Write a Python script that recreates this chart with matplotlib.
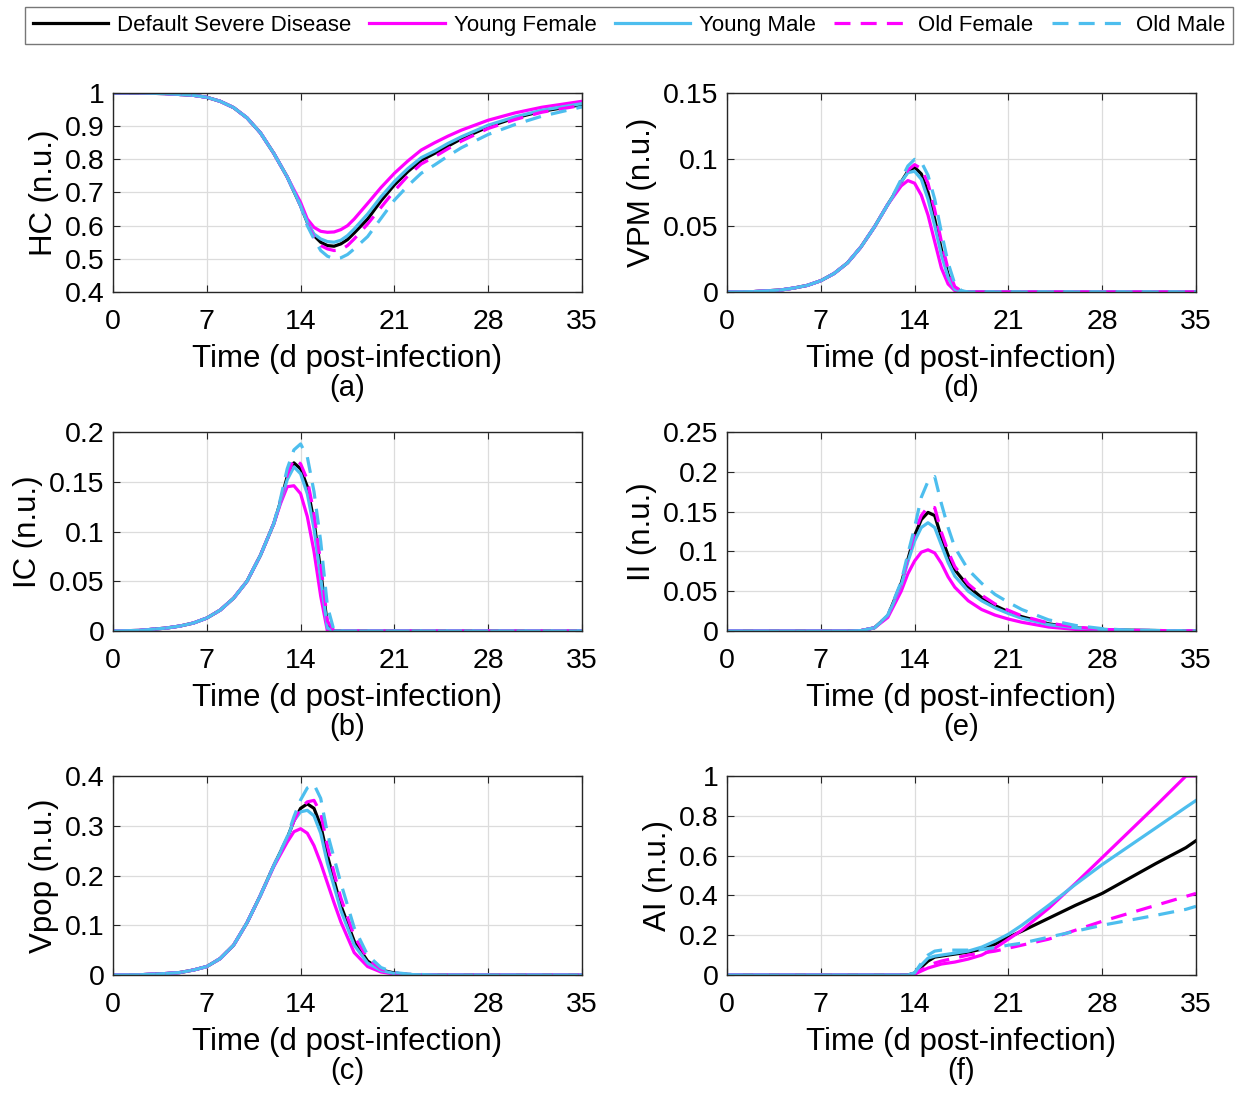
import matplotlib
matplotlib.use("Agg")
import matplotlib.pyplot as plt
from matplotlib.ticker import FuncFormatter

plt.rcParams['font.family'] = ['Liberation Sans', 'DejaVu Sans']

series_names = ["Default Severe Disease", "Young Female", "Young Male", "Old Female", "Old Male"]

# ---------------- (a) HC ----------------
t_hc = [0, 2, 4, 6, 7, 8, 9, 10, 11, 12, 13, 14, 14.5, 15, 15.5, 16, 16.5, 17, 17.5, 18, 19, 20, 21, 22, 23, 24, 25, 26, 28, 30, 32, 35]
hc_def = [1.0, 1.0, 0.998, 0.993, 0.987, 0.975, 0.956, 0.925, 0.88, 0.818, 0.747, 0.66, 0.61, 0.57, 0.55, 0.54, 0.538, 0.545, 0.558, 0.578, 0.62, 0.675, 0.723, 0.763, 0.797, 0.818, 0.84, 0.862, 0.898, 0.925, 0.945, 0.965]
hc_yf = [1.0, 1.0, 0.998, 0.993, 0.987, 0.975, 0.956, 0.925, 0.88, 0.818, 0.747, 0.67, 0.62, 0.595, 0.583, 0.58, 0.581, 0.588, 0.60, 0.62, 0.667, 0.715, 0.758, 0.795, 0.828, 0.85, 0.87, 0.888, 0.918, 0.94, 0.957, 0.975]
hc_ym = [1.0, 1.0, 0.998, 0.993, 0.987, 0.975, 0.956, 0.925, 0.88, 0.818, 0.747, 0.66, 0.61, 0.575, 0.56, 0.552, 0.55, 0.556, 0.57, 0.59, 0.635, 0.687, 0.733, 0.772, 0.805, 0.825, 0.848, 0.868, 0.903, 0.928, 0.948, 0.968]
hc_of = [1.0, 1.0, 0.998, 0.993, 0.987, 0.975, 0.956, 0.925, 0.88, 0.818, 0.747, 0.66, 0.605, 0.565, 0.54, 0.53, 0.525, 0.527, 0.54, 0.56, 0.605, 0.655, 0.705, 0.75, 0.786, 0.808, 0.832, 0.855, 0.893, 0.92, 0.942, 0.963]
hc_om = [1.0, 1.0, 0.998, 0.993, 0.987, 0.975, 0.956, 0.925, 0.88, 0.818, 0.747, 0.66, 0.60, 0.56, 0.525, 0.508, 0.50, 0.503, 0.513, 0.53, 0.567, 0.622, 0.677, 0.72, 0.758, 0.783, 0.81, 0.835, 0.875, 0.905, 0.93, 0.958]

# ---------------- (b) IC ----------------
t_ic = [0, 2, 4, 5, 6, 7, 8, 9, 10, 11, 12, 12.5, 13, 13.5, 14, 14.5, 15, 15.5, 16, 16.5, 20, 25, 30, 35]
ic_def = [0, 0.0006, 0.003, 0.005, 0.008, 0.013, 0.021, 0.033, 0.05, 0.076, 0.108, 0.13, 0.155, 0.169, 0.163, 0.145, 0.11, 0.06, 0.006, 0, 0, 0, 0, 0]
ic_yf = [0, 0.0006, 0.003, 0.005, 0.008, 0.013, 0.021, 0.033, 0.05, 0.076, 0.108, 0.128, 0.145, 0.146, 0.138, 0.115, 0.08, 0.035, 0.0, 0, 0, 0, 0, 0]
ic_ym = [0, 0.0006, 0.003, 0.005, 0.008, 0.013, 0.021, 0.033, 0.05, 0.076, 0.108, 0.13, 0.152, 0.165, 0.158, 0.138, 0.103, 0.053, 0.003, 0, 0, 0, 0, 0]
ic_of = [0, 0.0006, 0.003, 0.005, 0.008, 0.013, 0.021, 0.033, 0.05, 0.076, 0.108, 0.131, 0.157, 0.173, 0.168, 0.152, 0.118, 0.068, 0.01, 0, 0, 0, 0, 0]
ic_om = [0, 0.0006, 0.003, 0.005, 0.008, 0.013, 0.021, 0.033, 0.05, 0.076, 0.108, 0.133, 0.163, 0.182, 0.188, 0.175, 0.14, 0.09, 0.025, 0, 0, 0, 0, 0]

# ---------------- (c) Vpop ----------------
t_vp = [0, 2, 4, 5, 6, 7, 8, 9, 10, 11, 12, 13, 13.5, 14, 14.5, 15, 15.5, 16, 16.5, 17, 18, 19, 20, 21, 22, 24, 35]
vp_def = [0, 0.0005, 0.003, 0.005, 0.01, 0.017, 0.033, 0.06, 0.105, 0.16, 0.22, 0.275, 0.31, 0.335, 0.344, 0.335, 0.30, 0.24, 0.19, 0.14, 0.068, 0.028, 0.01, 0.004, 0.001, 0, 0]
vp_yf = [0, 0.0005, 0.003, 0.005, 0.01, 0.017, 0.033, 0.06, 0.105, 0.16, 0.218, 0.267, 0.288, 0.294, 0.285, 0.26, 0.225, 0.185, 0.145, 0.107, 0.045, 0.017, 0.006, 0.002, 0.001, 0, 0]
vp_ym = [0, 0.0005, 0.003, 0.005, 0.01, 0.017, 0.033, 0.06, 0.105, 0.16, 0.22, 0.275, 0.31, 0.328, 0.331, 0.32, 0.285, 0.225, 0.178, 0.13, 0.06, 0.024, 0.009, 0.003, 0.001, 0, 0]
vp_of = [0, 0.0005, 0.003, 0.005, 0.01, 0.017, 0.033, 0.06, 0.105, 0.16, 0.22, 0.275, 0.31, 0.336, 0.348, 0.351, 0.325, 0.26, 0.205, 0.155, 0.078, 0.033, 0.012, 0.004, 0.001, 0, 0]
vp_om = [0, 0.0005, 0.003, 0.005, 0.01, 0.017, 0.033, 0.06, 0.105, 0.16, 0.22, 0.278, 0.318, 0.352, 0.376, 0.383, 0.355, 0.285, 0.235, 0.185, 0.095, 0.04, 0.015, 0.005, 0.002, 0, 0]

# ---------------- (d) VPM ----------------
t_vpm = [0, 2, 4, 5, 6, 7, 8, 9, 10, 11, 12, 12.5, 13, 13.5, 14, 14.5, 15, 15.5, 16, 16.5, 17, 17.5, 18, 25, 35]
vpm_def = [0, 0.0003, 0.0015, 0.003, 0.005, 0.0085, 0.014, 0.022, 0.034, 0.049, 0.066, 0.074, 0.083, 0.091, 0.094, 0.089, 0.075, 0.055, 0.032, 0.013, 0.003, 0.0005, 0, 0, 0]
vpm_yf = [0, 0.0003, 0.0015, 0.003, 0.005, 0.0085, 0.014, 0.022, 0.034, 0.049, 0.066, 0.073, 0.08, 0.084, 0.082, 0.073, 0.058, 0.038, 0.018, 0.006, 0.001, 0.0002, 0, 0, 0]
vpm_ym = [0, 0.0003, 0.0015, 0.003, 0.005, 0.0085, 0.014, 0.022, 0.034, 0.049, 0.066, 0.074, 0.083, 0.09, 0.091, 0.085, 0.07, 0.05, 0.028, 0.011, 0.002, 0.0004, 0, 0, 0]
vpm_of = [0, 0.0003, 0.0015, 0.003, 0.005, 0.0085, 0.014, 0.022, 0.034, 0.049, 0.066, 0.074, 0.084, 0.092, 0.096, 0.093, 0.082, 0.062, 0.038, 0.017, 0.004, 0.0007, 0, 0, 0]
vpm_om = [0, 0.0003, 0.0015, 0.003, 0.005, 0.0085, 0.014, 0.022, 0.034, 0.049, 0.066, 0.075, 0.085, 0.095, 0.100, 0.098, 0.088, 0.07, 0.045, 0.022, 0.006, 0.001, 0, 0, 0]

# ---------------- (e) II ----------------
t_ii = [0, 5, 9, 10, 11, 12, 13, 13.5, 14, 14.5, 15, 15.5, 16, 16.5, 17, 18, 19, 20, 21, 22, 24, 26, 28, 30, 35]
ii_def = [0, 0, 0, 0.0005, 0.004, 0.019, 0.06, 0.09, 0.12, 0.14, 0.149, 0.145, 0.118, 0.095, 0.077, 0.056, 0.042, 0.032, 0.024, 0.018, 0.009, 0.004, 0.002, 0.001, 0]
ii_yf = [0, 0, 0, 0.0005, 0.004, 0.017, 0.05, 0.072, 0.088, 0.099, 0.102, 0.098, 0.085, 0.068, 0.055, 0.038, 0.027, 0.02, 0.015, 0.011, 0.005, 0.002, 0.001, 0.0005, 0]
ii_ym = [0, 0, 0, 0.0005, 0.004, 0.019, 0.058, 0.087, 0.113, 0.13, 0.136, 0.13, 0.108, 0.086, 0.069, 0.05, 0.038, 0.029, 0.022, 0.016, 0.008, 0.004, 0.002, 0.001, 0]
ii_of = [0, 0, 0, 0.0005, 0.004, 0.019, 0.06, 0.092, 0.124, 0.145, 0.156, 0.155, 0.124, 0.10, 0.081, 0.059, 0.045, 0.034, 0.026, 0.019, 0.01, 0.005, 0.002, 0.001, 0]
ii_om = [0, 0, 0, 0.0005, 0.004, 0.02, 0.062, 0.097, 0.13, 0.168, 0.188, 0.194, 0.16, 0.13, 0.105, 0.077, 0.06, 0.046, 0.036, 0.027, 0.014, 0.007, 0.003, 0.001, 0]

# ---------------- (f) AI ----------------
t_ai = [0, 13.5, 14, 14.5, 15, 15.5, 16, 17, 18, 19, 20, 21, 22, 24, 26, 28, 30, 32, 34.25, 35]
ai_def = [0, 0, 0.01, 0.04, 0.07, 0.09, 0.095, 0.105, 0.115, 0.13, 0.155, 0.19, 0.22, 0.285, 0.35, 0.41, 0.485, 0.56, 0.64, 0.675]
ai_yf = [0, 0, 0.005, 0.02, 0.035, 0.045, 0.055, 0.065, 0.08, 0.10, 0.135, 0.18, 0.225, 0.335, 0.46, 0.59, 0.72, 0.85, 1.0, 1.0]
ai_ym = [0, 0, 0.01, 0.05, 0.085, 0.095, 0.10, 0.11, 0.12, 0.14, 0.17, 0.205, 0.25, 0.35, 0.455, 0.555, 0.647, 0.739, 0.843, 0.877]
ai_of = [0, 0, 0.005, 0.025, 0.045, 0.06, 0.07, 0.085, 0.10, 0.11, 0.12, 0.135, 0.15, 0.18, 0.225, 0.27, 0.31, 0.35, 0.395, 0.41]
ai_om = [0, 0, 0.01, 0.06, 0.10, 0.12, 0.125, 0.125, 0.125, 0.128, 0.138, 0.15, 0.16, 0.19, 0.22, 0.25, 0.275, 0.30, 0.33, 0.345]

x_ticks = [0, 7, 14, 21, 28, 35]

panels = [
    dict(t=t_hc, ys=[hc_def, hc_yf, hc_ym, hc_of, hc_om], ylabel="HC (n.u.)", ylim=(0.4, 1.0),
         yticks=[0.4, 0.5, 0.6, 0.7, 0.8, 0.9, 1.0], tag="(a)"),
    dict(t=t_ic, ys=[ic_def, ic_yf, ic_ym, ic_of, ic_om], ylabel="IC (n.u.)", ylim=(0, 0.2),
         yticks=[0, 0.05, 0.1, 0.15, 0.2], tag="(b)"),
    dict(t=t_vp, ys=[vp_def, vp_yf, vp_ym, vp_of, vp_om], ylabel="Vpop (n.u.)", ylim=(0, 0.4),
         yticks=[0, 0.1, 0.2, 0.3, 0.4], tag="(c)"),
    dict(t=t_vpm, ys=[vpm_def, vpm_yf, vpm_ym, vpm_of, vpm_om], ylabel="VPM (n.u.)", ylim=(0, 0.15),
         yticks=[0, 0.05, 0.1, 0.15], tag="(d)"),
    dict(t=t_ii, ys=[ii_def, ii_yf, ii_ym, ii_of, ii_om], ylabel="II (n.u.)", ylim=(0, 0.25),
         yticks=[0, 0.05, 0.1, 0.15, 0.2, 0.25], tag="(e)"),
    dict(t=t_ai, ys=[ai_def, ai_yf, ai_ym, ai_of, ai_om], ylabel="AI (n.u.)", ylim=(0, 1.0),
         yticks=[0, 0.2, 0.4, 0.6, 0.8, 1.0], tag="(f)"),
]

colors = ["black", "#FF00FF", "#4DBEEE", "#FF00FF", "#4DBEEE"]
styles = ["-", "-", "-", "--", "--"]

W, H = 1245, 1098
fig = plt.figure(figsize=(W / 100, H / 100), dpi=100)

lefts = [113, 727]
tops = [93, 432, 776]
aw, ah = 469, 199

fmt = FuncFormatter(lambda v, p: "%g" % round(v, 4))

handles = None
for i, p in enumerate(panels):
    col = i // 3
    row = i % 3
    x0 = lefts[col]
    y0 = tops[row]
    ax = fig.add_axes([x0 / W, 1 - (y0 + ah) / H, aw / W, ah / H])
    lines = []
    for ys, c, ls in zip(p["ys"], colors, styles):
        if ls == "--":
            ln, = ax.plot(p["t"], ys, color=c, lw=2.3, linestyle=(0, (5, 3.2)))
        else:
            ln, = ax.plot(p["t"], ys, color=c, lw=2.3, linestyle="-")
        lines.append(ln)
    handles = lines
    ax.set_xlim(0, 35)
    ax.set_ylim(*p["ylim"])
    ax.set_xticks(x_ticks)
    ax.set_yticks(p["yticks"])
    ax.yaxis.set_major_formatter(fmt)
    ax.grid(True, color="#dcdcdc", lw=0.9)
    ax.set_axisbelow(True)
    for s in ax.spines.values():
        s.set_color("#262626")
        s.set_linewidth(1.0)
    ax.tick_params(direction="in", top=True, right=True, labelsize=20.5, length=5,
                   color="#262626")
    ax.tick_params(axis="x", pad=12)
    ax.tick_params(axis="y", pad=6)
    ax.set_ylabel(p["ylabel"], fontsize=22.5, labelpad=4)
    ax.set_xlabel("Time (d post-infection)", fontsize=22.5, labelpad=7)
    ax.text(0.5, -(388 - 292) / 199, p["tag"], transform=ax.transAxes, ha="center", va="center", fontsize=21)

leg = fig.legend(handles, series_names, loc="lower left",
                 bbox_to_anchor=(25 / W, 1 - 44 / H, 1208 / W, 39 / H), mode="expand",
                 ncol=5, frameon=True, fancybox=False, fontsize=16, handlelength=3.4,
                 handletextpad=0.4, borderaxespad=0, borderpad=0.35, columnspacing=0.8)
leg.get_frame().set_edgecolor("#555555")
leg.get_frame().set_linewidth(1.0)

fig.savefig("out.png", dpi=100)
